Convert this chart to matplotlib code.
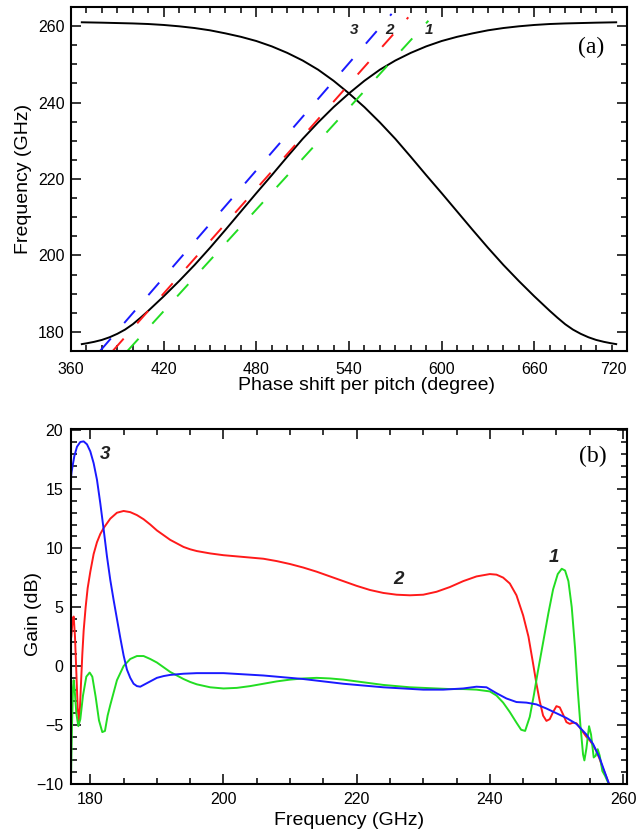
import numpy as np
import matplotlib
matplotlib.use("Agg")
import matplotlib.pyplot as plt
from matplotlib.ticker import MultipleLocator

plt.rcParams['font.family'] = ['Liberation Sans', 'DejaVu Sans']

# (a) dispersion curves, phase shift per pitch (degree) vs frequency (GHz)
rising_phase = [367, 370, 375, 380, 385, 390, 395, 400, 405, 410, 415, 420, 430, 440, 450, 460,
                470, 480, 490, 500, 510, 520, 530, 540, 550, 560, 570, 580, 590, 600, 610, 620,
                630, 640, 650, 660, 670, 680, 690, 700, 713]
rising_freq = [176.8, 177.0, 177.4, 177.9, 178.6, 179.5, 180.6, 182.0, 183.7, 185.5, 187.4, 189.3,
               193.3, 197.5, 202.0, 206.7, 211.5, 216.3, 221.0, 225.8, 230.5, 234.8, 238.8, 242.4,
               245.7, 248.6, 251.0, 253.0, 254.7, 256.1, 257.2, 258.1, 258.9, 259.5, 259.95, 260.3,
               260.55, 260.7, 260.8, 260.9, 261.0]
falling_phase = [367, 380, 390, 400, 410, 420, 430, 440, 450, 460, 470, 480, 490, 500, 510, 520,
                 530, 540, 550, 560, 570, 580, 590, 600, 610, 620, 630, 640, 650, 660, 665, 670,
                 675, 680, 685, 690, 695, 700, 705, 710, 713]
falling_freq = [261.0, 260.9, 260.8, 260.7, 260.55, 260.3, 259.95, 259.5, 258.9, 258.1, 257.2,
                256.1, 254.7, 253.0, 251.0, 248.6, 245.7, 242.4, 238.8, 234.8, 230.5, 225.8, 221.0,
                216.3, 211.5, 206.7, 202.0, 197.5, 193.3, 189.3, 187.4, 185.5, 183.7, 182.0, 180.6,
                179.5, 178.6, 177.9, 177.4, 177.0, 176.8]
phase_ticks = [360, 420, 480, 540, 600, 660, 720]

# beam lines (start / end points)
beam_labels = ['3', '2', '1']
beam_phase = [[378.8, 567.6], [387.0, 578.4], [396.5, 591.4]]
beam_freq = [[175.0, 263.2], [175.0, 262.3], [175.0, 261.4]]
beam_colors = ['#1a1aff', '#ff1a1a', '#22dd22']
beam_label_x = [543, 566, 592]
beam_label_y = [258.9, 258.9, 258.9]

# (b) gain curves
blue_f = [176.8, 177.2, 177.6, 178.0, 178.5, 179.0, 179.5, 180.0, 180.5, 181.0, 181.5, 182.0, 182.5,
          183.0, 183.5, 184.0, 184.5, 185.0, 185.5, 186.0, 186.5, 187.0, 187.5, 188.0, 189.0, 190.0,
          191.0, 192.0, 194.0, 196.0, 198.0, 200.0, 203.0, 206.0, 209.0, 212.0, 215.0, 218.0, 221.0,
          224.0, 227.0, 230.0, 233.0, 236.0, 238.0, 239.5, 241.0, 242.5, 244.0, 245.5, 247.0, 248.5,
          250.0, 251.5, 253.0, 254.5, 255.5, 256.5, 257.2, 257.9]
blue_g = [14.4, 16.5, 17.8, 18.6, 19.0, 19.05, 18.8, 18.2, 17.2, 15.8, 13.8, 11.6, 9.3,
          7.3, 5.6, 4.0, 2.4, 0.9, -0.3, -1.0, -1.5, -1.7, -1.75, -1.6, -1.3, -1.0,
          -0.85, -0.75, -0.65, -0.6, -0.6, -0.6, -0.7, -0.8, -0.95, -1.1, -1.3, -1.5, -1.65,
          -1.8, -1.9, -2.0, -2.0, -1.9, -1.75, -1.8, -2.3, -2.75, -3.05, -3.1, -3.25, -3.6,
          -4.0, -4.4, -4.9, -5.8, -6.6, -7.8, -8.9, -10.0]

red_f = [177.15, 177.35, 177.5, 177.7, 177.9, 178.1, 178.3, 178.45, 178.6, 178.8, 179.0, 179.3,
         179.6, 180.0, 180.5, 181.0, 181.5, 182.0, 183.0, 184.0, 185.0, 186.0, 187.0, 188.0, 189.0,
         190.0, 191.0, 192.0, 193.0, 194.0, 195.0, 196.0, 198.0, 200.0, 202.0, 204.0, 206.0, 208.0,
         210.0, 212.0, 214.0, 216.0, 218.0, 220.0, 222.0, 224.0, 226.0, 228.0, 230.0, 232.0, 234.0,
         236.0, 238.0, 240.0, 241.0, 242.0, 243.0, 244.0, 245.0, 245.8, 246.5, 247.0, 247.5, 248.0,
         248.5, 249.0, 249.5, 250.0, 250.5, 251.0, 251.5, 252.0, 252.5, 253.0, 253.5, 254.0, 254.5,
         255.0, 255.5, 256.0, 256.5, 257.0, 257.5, 257.9]
red_g = [2.5, 4.0, 4.2, 2.5, -0.5, -3.5, -4.8, -3.5, -1.5, 1.0, 3.0, 5.0,
         6.6, 8.0, 9.5, 10.5, 11.2, 11.7, 12.5, 13.0, 13.15, 13.05, 12.8, 12.45, 12.0,
         11.5, 11.1, 10.7, 10.4, 10.1, 9.9, 9.75, 9.55, 9.4, 9.3, 9.2, 9.1, 8.9,
         8.65, 8.35, 8.0, 7.6, 7.2, 6.8, 6.45, 6.2, 6.05, 6.0, 6.05, 6.3, 6.7,
         7.2, 7.6, 7.8, 7.75, 7.5, 7.0, 6.0, 4.3, 2.5, 0.2, -1.5, -3.0, -4.2,
         -4.65, -4.5, -3.9, -3.4, -3.5, -4.1, -4.75, -4.9, -4.8, -4.85, -5.2, -5.6, -6.0,
         -6.3, -6.7, -7.2, -7.9, -8.7, -9.4, -10.0]

green_f = [177.1, 177.25, 177.4, 177.5, 177.65, 177.9, 178.2, 178.5, 178.9, 179.4, 179.9, 180.3,
           180.8, 181.3, 181.8, 182.2, 182.6, 183.0, 184.0, 185.0, 186.0, 187.0, 188.0, 189.0,
           190.0, 191.0, 192.0, 193.0, 194.0, 195.0, 196.0, 198.0, 200.0, 202.0, 204.0, 206.0,
           208.0, 210.0, 212.0, 214.0, 216.0, 218.0, 220.0, 222.0, 224.0, 226.0, 228.0, 230.0,
           232.0, 234.0, 236.0, 238.0, 240.0, 241.0, 242.0, 243.0, 244.0, 244.7, 245.3, 246.0,
           246.6, 247.2, 248.0, 248.8, 249.5, 250.2, 250.8, 251.3, 251.8, 252.3, 252.8, 253.2,
           253.6, 254.0, 254.2, 254.5, 254.9, 255.2, 255.6, 255.9, 256.2, 256.5, 256.9, 257.3, 257.7]
green_g = [-9.5, -5.0, -1.8, -1.2, -2.0, -4.0, -5.1, -4.5, -2.5, -0.9, -0.55, -0.9,
           -2.6, -4.6, -5.6, -5.5, -4.2, -3.3, -1.2, 0.0, 0.6, 0.85, 0.85, 0.6,
           0.3, -0.1, -0.5, -0.8, -1.1, -1.35, -1.55, -1.8, -1.9, -1.85, -1.7, -1.5,
           -1.3, -1.15, -1.05, -1.0, -1.05, -1.15, -1.3, -1.45, -1.6, -1.7, -1.8, -1.85,
           -1.9, -1.95, -1.95, -2.0, -2.15, -2.5, -3.1, -3.9, -4.8, -5.4, -5.5, -4.3,
           -2.5, -0.5, 2.0, 4.5, 6.5, 7.8, 8.25, 8.1, 7.2, 5.0, 1.5, -2.0,
           -5.0, -7.5, -8.0, -7.0, -5.1, -5.8, -7.75, -7.6, -7.05, -7.6, -8.9, -9.3, -9.8]

gain_labels = ['3', '2', '1']
gain_label_x = [182.2, 226.3, 249.6]
gain_label_y = [17.9, 7.3, 9.2]

W, H = 638, 830
fig = plt.figure(figsize=(W / 100, H / 100), dpi=100)
ax1 = fig.add_axes([71 / W, 1 - 351 / H, 556 / W, 344 / H])
ax2 = fig.add_axes([71 / W, 1 - 784 / H, 556 / W, 355 / H])


def style(ax):
    for s in ax.spines.values():
        s.set_linewidth(1.5)
    ax.tick_params(which='both', direction='in', top=True, right=True, width=1.1,
                   labelsize=11.5)
    ax.tick_params(which='major', length=7)
    ax.tick_params(which='minor', length=4)


# ---- panel (a)
ax1.plot(rising_phase, rising_freq, color='black', lw=1.4)
ax1.plot(falling_phase, falling_freq, color='black', lw=1.4)
for ph, fr, c in zip(beam_phase, beam_freq, beam_colors):
    ax1.plot(ph, fr, color=c, lw=1.4, dashes=(8.5, 10.5))
for lab, x, y in zip(beam_labels, beam_label_x, beam_label_y):
    ax1.text(x, y, lab, fontsize=11, style='italic', weight='bold', color='#222222',
             ha='center', va='center')
ax1.text(696.7, 254.5, '(a)', fontsize=17, family='Liberation Serif', ha='center', va='center')
ax1.set_xlim(360, 720)
ax1.set_ylim(175, 265)
ax1.set_xticks(phase_ticks)
ax1.xaxis.set_minor_locator(MultipleLocator(10))
ax1.yaxis.set_major_locator(MultipleLocator(20))
ax1.yaxis.set_minor_locator(MultipleLocator(5))
style(ax1)
ax1.tick_params(axis='x', pad=8)
ax1.tick_params(axis='y', pad=4.5)
ax1.set_xlabel('Phase shift per pitch (degree)', fontsize=14)
ax1.set_ylabel('Frequency (GHz)', fontsize=14)
ax1.xaxis.set_label_coords(0.532, -0.077)
ax1.yaxis.set_label_coords(-0.07, 0.5)

# ---- panel (b)
ax2.plot(red_f, red_g, color='#ff1a1a', lw=1.4)
ax2.plot(green_f, green_g, color='#22dd22', lw=1.4)
ax2.plot(blue_f, blue_g, color='#1a1aff', lw=1.4)
for lab, x, y in zip(gain_labels, gain_label_x, gain_label_y):
    ax2.text(x, y, lab, fontsize=13.5, style='italic', weight='bold', color='#222222',
             ha='center', va='center')
ax2.text(255.4, 17.8, '(b)', fontsize=17, family='Liberation Serif', ha='center', va='center')
ax2.set_xlim(177.1, 260.6)
ax2.set_ylim(-10, 20.1)
ax2.xaxis.set_major_locator(MultipleLocator(20))
ax2.xaxis.set_minor_locator(MultipleLocator(5))
ax2.yaxis.set_major_locator(MultipleLocator(5))
ax2.yaxis.set_minor_locator(MultipleLocator(1))
style(ax2)
ax2.tick_params(axis='x', pad=5.5)
ax2.tick_params(axis='y', pad=5.5)
ax2.set_xlabel('Frequency (GHz)', fontsize=14)
ax2.set_ylabel('Gain (dB)', fontsize=14)
ax2.xaxis.set_label_coords(0.5, -0.079)
ax2.yaxis.set_label_coords(-0.052, 0.48)

# the last phase label sits flush with the right spine, as in the original
fig.canvas.draw()
for t in ax1.xaxis.get_major_ticks():
    if abs(t.get_loc() - 720) < 1e-6:
        t.label1.set_horizontalalignment('right')

fig.savefig('out.png', dpi=100)
